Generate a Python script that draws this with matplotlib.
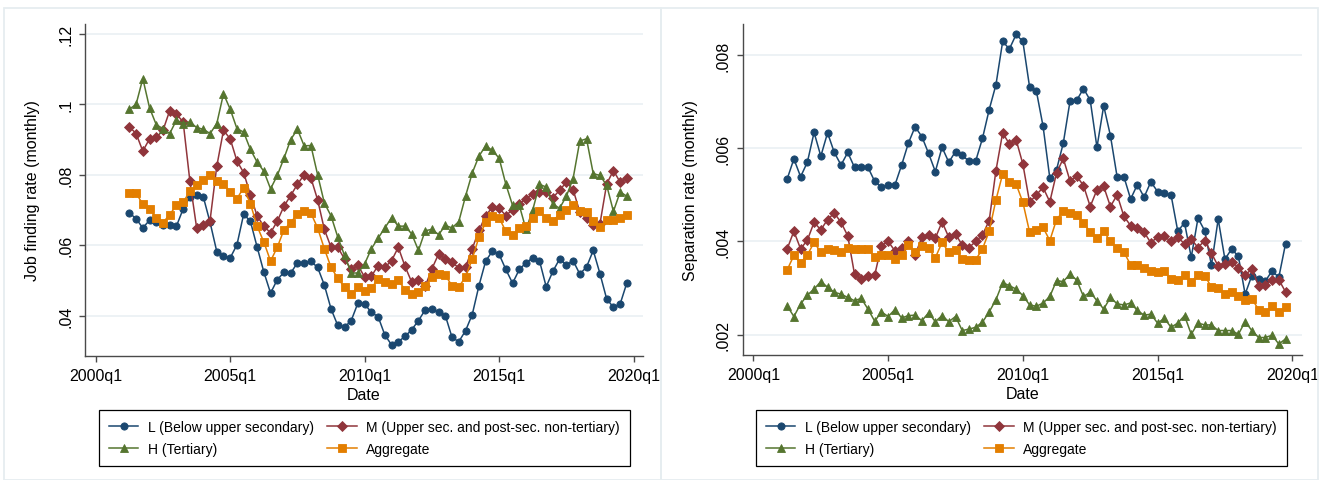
import matplotlib
matplotlib.use("Agg")
import matplotlib.pyplot as plt
import matplotlib.patches as mpatches
import pandas as pd
import numpy as np

plt.rcParams['font.family'] = ['Liberation Sans', 'DejaVu Sans']

# ---------------- data ----------------
start_quarter = "2001Q2"
end_quarter = "2019Q4"

series_labels = ["L (Below upper secondary)", "M (Upper sec. and post-sec. non-tertiary)",
                 "H (Tertiary)", "Aggregate"]

jf_L = [0.0692, 0.0675, 0.0649, 0.0671, 0.0665, 0.0656, 0.0656, 0.0654, 0.0703, 0.0737,
        0.0743, 0.0737, 0.0665, 0.0582, 0.0569, 0.0564, 0.0601, 0.0688, 0.0668, 0.0595,
        0.0524, 0.0464, 0.0502, 0.0523, 0.0521, 0.0550, 0.0550, 0.0554, 0.0537, 0.0487,
        0.0419, 0.0372, 0.0367, 0.0386, 0.0436, 0.0433, 0.0409, 0.0397, 0.0345, 0.0317,
        0.0326, 0.0341, 0.0360, 0.0386, 0.0416, 0.0419, 0.0409, 0.0400, 0.0338, 0.0326,
        0.0357, 0.0403, 0.0485, 0.0555, 0.0583, 0.0574, 0.0531, 0.0492, 0.0531, 0.0550,
        0.0564, 0.0556, 0.0482, 0.0526, 0.0561, 0.0544, 0.0556, 0.0518, 0.0538, 0.0585,
        0.0519, 0.0447, 0.0424, 0.0433, 0.0493]
jf_M = [0.0936, 0.0917, 0.0867, 0.0902, 0.0906, 0.0926, 0.0982, 0.0972, 0.0950, 0.0782,
        0.0650, 0.0658, 0.0670, 0.0824, 0.0926, 0.0902, 0.0839, 0.0806, 0.0743, 0.0683,
        0.0654, 0.0635, 0.0668, 0.0711, 0.0741, 0.0773, 0.0800, 0.0791, 0.0729, 0.0645,
        0.0594, 0.0594, 0.0561, 0.0531, 0.0543, 0.0509, 0.0512, 0.0542, 0.0537, 0.0556,
        0.0594, 0.0540, 0.0495, 0.0500, 0.0483, 0.0533, 0.0575, 0.0561, 0.0552, 0.0535,
        0.0537, 0.0590, 0.0642, 0.0684, 0.0708, 0.0705, 0.0684, 0.0701, 0.0718, 0.0732,
        0.0746, 0.0751, 0.0751, 0.0735, 0.0756, 0.0779, 0.0758, 0.0694, 0.0678, 0.0656,
        0.0661, 0.0774, 0.0812, 0.0779, 0.0791]
jf_H = [0.0986, 0.1000, 0.1073, 0.0990, 0.0942, 0.0931, 0.0917, 0.0955, 0.0945, 0.0950,
        0.0934, 0.0929, 0.0917, 0.0945, 0.1030, 0.0986, 0.0931, 0.0921, 0.0872, 0.0836,
        0.0810, 0.0760, 0.0798, 0.0847, 0.0900, 0.0929, 0.0882, 0.0883, 0.0800, 0.0720,
        0.0683, 0.0623, 0.0571, 0.0521, 0.0521, 0.0547, 0.0590, 0.0620, 0.0649, 0.0678,
        0.0654, 0.0654, 0.0632, 0.0585, 0.0641, 0.0645, 0.0630, 0.0656, 0.0649, 0.0667,
        0.0739, 0.0805, 0.0853, 0.0882, 0.0869, 0.0847, 0.0773, 0.0713, 0.0713, 0.0645,
        0.0700, 0.0773, 0.0765, 0.0716, 0.0705, 0.0739, 0.0789, 0.0896, 0.0902, 0.0803,
        0.0798, 0.0770, 0.0696, 0.0751, 0.0739]
jf_A = [0.0748, 0.0748, 0.0716, 0.0703, 0.0678, 0.0664, 0.0687, 0.0713, 0.0722, 0.0753,
        0.0770, 0.0786, 0.0800, 0.0782, 0.0774, 0.0751, 0.0732, 0.0763, 0.0718, 0.0654,
        0.0609, 0.0555, 0.0594, 0.0644, 0.0664, 0.0689, 0.0697, 0.0691, 0.0649, 0.0590,
        0.0537, 0.0506, 0.0481, 0.0461, 0.0481, 0.0469, 0.0478, 0.0504, 0.0495, 0.0490,
        0.0500, 0.0474, 0.0462, 0.0466, 0.0485, 0.0509, 0.0519, 0.0514, 0.0485, 0.0482,
        0.0509, 0.0561, 0.0623, 0.0665, 0.0683, 0.0678, 0.0639, 0.0629, 0.0648, 0.0654,
        0.0678, 0.0696, 0.0678, 0.0670, 0.0687, 0.0701, 0.0713, 0.0697, 0.0694, 0.0670,
        0.0651, 0.0672, 0.0672, 0.0678, 0.0687]

sr_L = [0.00534, 0.00577, 0.00539, 0.00570, 0.00634, 0.00583, 0.00633, 0.00591, 0.00564, 0.00591,
        0.00559, 0.00559, 0.00559, 0.00529, 0.00516, 0.00521, 0.00521, 0.00564, 0.00611, 0.00646,
        0.00625, 0.00589, 0.00550, 0.00602, 0.00570, 0.00593, 0.00585, 0.00572, 0.00573, 0.00621,
        0.00683, 0.00736, 0.00829, 0.00813, 0.00844, 0.00829, 0.00731, 0.00723, 0.00647, 0.00536,
        0.00554, 0.00611, 0.00701, 0.00703, 0.00728, 0.00703, 0.00602, 0.00691, 0.00627, 0.00538,
        0.00539, 0.00491, 0.00522, 0.00495, 0.00528, 0.00507, 0.00503, 0.00500, 0.00422, 0.00440,
        0.00366, 0.00450, 0.00423, 0.00349, 0.00448, 0.00362, 0.00384, 0.00368, 0.00287, 0.00327,
        0.00320, 0.00315, 0.00337, 0.00323, 0.00395]
sr_M = [0.00384, 0.00422, 0.00384, 0.00403, 0.00441, 0.00425, 0.00447, 0.00461, 0.00441, 0.00412,
        0.00330, 0.00319, 0.00325, 0.00328, 0.00391, 0.00400, 0.00380, 0.00385, 0.00400, 0.00371,
        0.00409, 0.00414, 0.00407, 0.00442, 0.00409, 0.00416, 0.00392, 0.00387, 0.00400, 0.00414,
        0.00445, 0.00552, 0.00633, 0.00609, 0.00618, 0.00566, 0.00484, 0.00500, 0.00516, 0.00485,
        0.00547, 0.00578, 0.00530, 0.00540, 0.00520, 0.00475, 0.00511, 0.00518, 0.00475, 0.00500,
        0.00454, 0.00434, 0.00428, 0.00420, 0.00397, 0.00410, 0.00411, 0.00400, 0.00409, 0.00395,
        0.00405, 0.00387, 0.00402, 0.00375, 0.00347, 0.00352, 0.00357, 0.00344, 0.00328, 0.00341,
        0.00305, 0.00307, 0.00318, 0.00318, 0.00292]
sr_H = [0.00262, 0.00239, 0.00266, 0.00285, 0.00298, 0.00314, 0.00302, 0.00291, 0.00287, 0.00280,
        0.00273, 0.00278, 0.00255, 0.00229, 0.00249, 0.00239, 0.00254, 0.00236, 0.00241, 0.00242,
        0.00230, 0.00247, 0.00228, 0.00241, 0.00228, 0.00239, 0.00209, 0.00212, 0.00216, 0.00227,
        0.00249, 0.00275, 0.00312, 0.00305, 0.00298, 0.00284, 0.00264, 0.00261, 0.00268, 0.00282,
        0.00316, 0.00314, 0.00330, 0.00317, 0.00282, 0.00291, 0.00273, 0.00255, 0.00280, 0.00266,
        0.00264, 0.00268, 0.00252, 0.00242, 0.00244, 0.00225, 0.00235, 0.00216, 0.00225, 0.00241,
        0.00201, 0.00225, 0.00221, 0.00221, 0.00209, 0.00209, 0.00209, 0.00201, 0.00228, 0.00209,
        0.00194, 0.00194, 0.00199, 0.00180, 0.00191]
sr_A = [0.00339, 0.00370, 0.00354, 0.00371, 0.00398, 0.00377, 0.00384, 0.00382, 0.00377, 0.00385,
        0.00384, 0.00384, 0.00384, 0.00367, 0.00370, 0.00371, 0.00362, 0.00370, 0.00392, 0.00377,
        0.00391, 0.00385, 0.00365, 0.00398, 0.00377, 0.00382, 0.00362, 0.00360, 0.00361, 0.00384,
        0.00422, 0.00489, 0.00545, 0.00528, 0.00523, 0.00484, 0.00420, 0.00425, 0.00430, 0.00402,
        0.00447, 0.00465, 0.00461, 0.00457, 0.00440, 0.00420, 0.00407, 0.00422, 0.00400, 0.00385,
        0.00377, 0.00350, 0.00350, 0.00344, 0.00336, 0.00334, 0.00336, 0.00319, 0.00318, 0.00328,
        0.00314, 0.00328, 0.00327, 0.00302, 0.00300, 0.00287, 0.00291, 0.00284, 0.00275, 0.00277,
        0.00254, 0.00248, 0.00261, 0.00249, 0.00259]

x_tick_labels = ["2000q1", "2005q1", "2010q1", "2015q1", "2020q1"]
jf_yticks = [0.04, 0.06, 0.08, 0.10, 0.12]
jf_ytick_labels = [".04", ".06", ".08", ".1", ".12"]
sr_yticks = [0.002, 0.004, 0.006, 0.008]
sr_ytick_labels = [".002", ".004", ".006", ".008"]

# ---------------- helpers ----------------
periods = pd.period_range(start_quarter, end_quarter, freq="Q")
base = pd.Period("2000Q1", freq="Q")
xq = np.array([(p - base).n for p in periods])
xt = np.array([(pd.Period(lbl.replace("q", "Q"), freq="Q") - base).n for lbl in x_tick_labels])

colors = ["#1a476f", "#90353b", "#55752f", "#e37e00"]
markers = ["o", "D", "^", "s"]
msizes = [5.2, 4.6, 6.0, 5.4]

W, H = 1333, 481
fig = plt.figure(figsize=(W / 100, H / 100), dpi=100)

def fx(px):
    return px / W

def fy(py):
    return 1 - py / H

# panel outlines
for (x0, x1) in [(3.5, 661), (661, 1318)]:
    fig.patches.append(mpatches.Rectangle((fx(x0), fy(481)), fx(x1 - x0), (481 - 8.5) / H,
                                          transform=fig.transFigure, fill=False,
                                          edgecolor="#e6edf0", linewidth=1.3, zorder=0))

def make_panel(rect, data, yticks, ylabels, ylim, ylabel_text, leg_box):
    ax = fig.add_axes(rect)
    for s, c, m, ms, lab in zip(data, colors, markers, msizes, series_labels):
        ax.plot(xq, s, color=c, marker=m, markersize=ms, linewidth=1.1,
                markeredgewidth=0.6, markeredgecolor=c, label=lab, zorder=3)
    ax.set_xlim(-1.6, 81.4)
    ax.set_ylim(*ylim)
    ax.set_xticks(xt)
    ax.set_xticklabels(x_tick_labels)
    ax.set_yticks(yticks)
    ax.set_yticklabels(ylabels, rotation=90, va="center")
    ax.grid(axis="y", color="#eaf0f3", linewidth=1.2, zorder=0)
    ax.set_axisbelow(True)
    for sp in ["top", "right"]:
        ax.spines[sp].set_visible(False)
    for sp in ["left", "bottom"]:
        ax.spines[sp].set_color("#4a4a4a")
        ax.spines[sp].set_linewidth(1.0)
    ax.tick_params(axis="both", direction="out", length=4.5, width=1.0, color="#4a4a4a",
                   labelsize=11.5, pad=4)
    ax.set_xlabel("Date", fontsize=11.5)
    ax.xaxis.set_label_coords(0.5, -0.093)
    ax.set_ylabel(ylabel_text, fontsize=11.5)
    ax.yaxis.set_label_coords(-0.08, 0.5)
    handles, labels = ax.get_legend_handles_labels()
    order = [0, 2, 1, 3]
    leg = fig.legend([handles[i] for i in order], [labels[i] for i in order],
                     loc="upper left", bbox_to_anchor=leg_box, mode="expand", ncol=2,
                     fontsize=10, frameon=True, fancybox=False, framealpha=1,
                     edgecolor="black", handlelength=2.1, handletextpad=0.7,
                     borderpad=0.72, labelspacing=0.6, numpoints=1, borderaxespad=0)
    leg.get_frame().set_linewidth(0.9)
    return ax

ax1 = make_panel([fx(85), fy(356.7), fx(643 - 85), (356.7 - 25) / H],
                 [jf_L, jf_M, jf_H, jf_A], jf_yticks, jf_ytick_labels,
                 (0.02862, 0.1228), "Job finding rate (monthly)",
                 (fx(99), fy(464), fx(630 - 99), (464 - 411) / H))
ax2 = make_panel([fx(742.7), fy(356), fx(1301.7 - 742.7), (356 - 25) / H],
                 [sr_L, sr_M, sr_H, sr_A], sr_yticks, sr_ytick_labels,
                 (0.001565, 0.008665), "Separation rate (monthly)",
                 (fx(756), fy(464), fx(1287 - 756), (464 - 411) / H))

fig.savefig("out.png", dpi=100, facecolor="white")
